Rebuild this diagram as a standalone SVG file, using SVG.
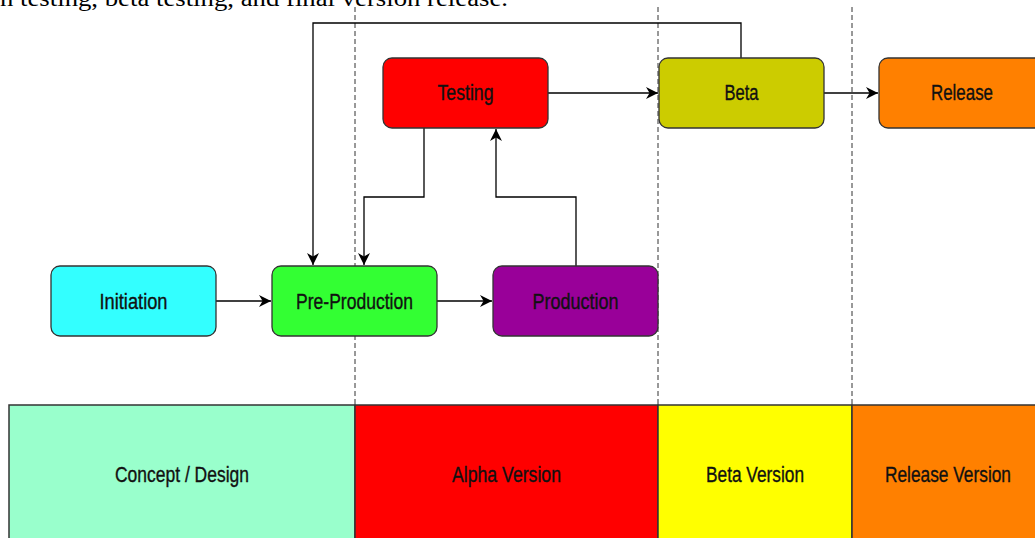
<svg xmlns="http://www.w3.org/2000/svg" width="1035" height="538" viewBox="0 0 1035 538">
<style>
.node{stroke:#333;stroke-width:1.3}
.band{stroke:#333;stroke-width:1.5}
.lbl{font-family:"Liberation Sans",Arial,sans-serif;font-size:21.5px;fill:#111;stroke:#111;stroke-width:0.35;text-anchor:middle}
.edge{fill:none;stroke:#000;stroke-width:1.3}
.dash{stroke:#333;stroke-width:1;stroke-dasharray:5,3}
</style>
<defs>
<marker id="arr" markerWidth="12" markerHeight="12" refX="10" refY="5" orient="auto" markerUnits="userSpaceOnUse" viewBox="0 0 10 10">
<path d="M0,0 L10,5 L0,10 L3,5 z" fill="#000"/>
</marker>
</defs>
<rect width="1035" height="538" fill="#fff"/>
<text x="0" y="6" font-family="'Liberation Serif','Times New Roman',serif" font-size="24" textLength="508" lengthAdjust="spacingAndGlyphs" fill="#000">n testing, beta testing, and final version release.</text>

<g id="phases">
<g id="band-concept"><rect class="band" x="9" y="405" width="346" height="140" fill="#99FFCC"/><text class="lbl" x="182" y="482" textLength="134" lengthAdjust="spacingAndGlyphs">Concept / Design</text></g>
<g id="band-alpha"><rect class="band" x="355" y="405" width="303" height="140" fill="#FF0000"/><text class="lbl" x="506.5" y="482" textLength="109" lengthAdjust="spacingAndGlyphs">Alpha Version</text></g>
<g id="band-beta"><rect class="band" x="658" y="405" width="194" height="140" fill="#FFFF00"/><text class="lbl" x="755" y="482" textLength="98" lengthAdjust="spacingAndGlyphs">Beta Version</text></g>
<g id="band-release"><rect class="band" x="852" y="405" width="192" height="140" fill="#FF8000"/><text class="lbl" x="948" y="482" textLength="126" lengthAdjust="spacingAndGlyphs">Release Version</text></g>
</g>

<g id="dividers">
<line class="dash" x1="355" y1="7" x2="355" y2="405"/>
<line class="dash" x1="658" y1="7" x2="658" y2="405"/>
<line class="dash" x1="852" y1="7" x2="852" y2="405"/>
</g>

<g id="connectors">
<path class="edge" d="M216,301 H271" marker-end="url(#arr)"/>
<path class="edge" d="M437,301 H492" marker-end="url(#arr)"/>
<path class="edge" d="M548,93 H658" marker-end="url(#arr)"/>
<path class="edge" d="M824,93 H878" marker-end="url(#arr)"/>
<path class="edge" d="M424,128 V197 H364 V265" marker-end="url(#arr)"/>
<path class="edge" d="M576,266 V197 H496 V129" marker-end="url(#arr)"/>
<path class="edge" d="M741,58 V23 H313 V265" marker-end="url(#arr)"/>
</g>

<g id="node-initiation"><rect class="node" x="51" y="266" width="165" height="70" rx="9" fill="#33FFFF"/><text class="lbl" x="133.5" y="308.5" textLength="68" lengthAdjust="spacingAndGlyphs">Initiation</text></g>
<g id="node-preproduction"><rect class="node" x="272" y="266" width="165" height="70" rx="9" fill="#33FF33"/><text class="lbl" x="354.5" y="308.5" textLength="117" lengthAdjust="spacingAndGlyphs">Pre-Production</text></g>
<g id="node-production"><rect class="node" x="493" y="266" width="165" height="70" rx="9" fill="#990099"/><text class="lbl" x="575.5" y="308.5" textLength="86" lengthAdjust="spacingAndGlyphs">Production</text></g>
<g id="node-testing"><rect class="node" x="383" y="58" width="165" height="70" rx="9" fill="#FF0000"/><text class="lbl" x="465.5" y="100" textLength="56" lengthAdjust="spacingAndGlyphs">Testing</text></g>
<g id="node-beta"><rect class="node" x="659" y="58" width="165" height="70" rx="9" fill="#CCCC00"/><text class="lbl" x="741.5" y="100" textLength="34" lengthAdjust="spacingAndGlyphs">Beta</text></g>
<g id="node-release"><rect class="node" x="879" y="58" width="166" height="70" rx="9" fill="#FF8000"/><text class="lbl" x="962" y="100" textLength="62" lengthAdjust="spacingAndGlyphs">Release</text></g>
</svg>
